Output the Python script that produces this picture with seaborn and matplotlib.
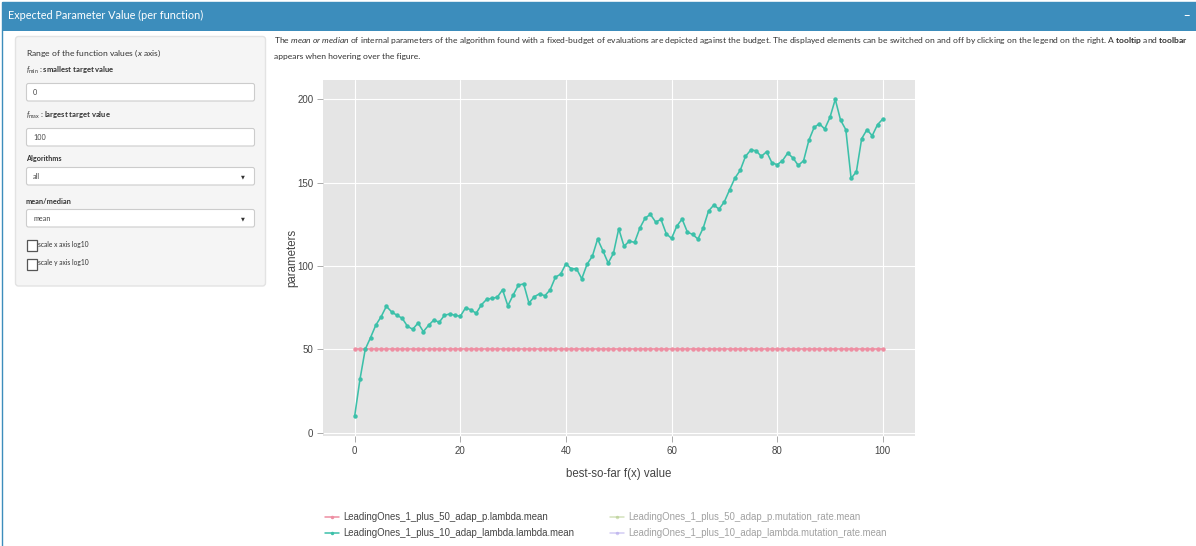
import matplotlib
matplotlib.use("Agg")
import matplotlib.pyplot as plt
import pandas as pd
import seaborn as sns
from matplotlib.lines import Line2D
from matplotlib.patches import FancyBboxPatch, Rectangle

# values (best-so-far f(x) vs mean parameter value)
fx_values = list(range(101))
lambda_p50 = [
    50, 50, 50, 50, 50, 50, 50, 50, 50, 50, 50, 50, 50, 50, 50, 50, 50, 50, 50, 50,
    50, 50, 50, 50, 50, 50, 50, 50, 50, 50, 50, 50, 50, 50, 50, 50, 50, 50, 50, 50,
    50, 50, 50, 50, 50, 50, 50, 50, 50, 50, 50, 50, 50, 50, 50, 50, 50, 50, 50, 50,
    50, 50, 50, 50, 50, 50, 50, 50, 50, 50, 50, 50, 50, 50, 50, 50, 50, 50, 50, 50,
    50, 50, 50, 50, 50, 50, 50, 50, 50, 50, 50, 50, 50, 50, 50, 50, 50, 50, 50, 50,
    50,
]
lambda_l10 = [
    10.0, 32.0, 50.0, 57.0, 64.5, 69.5, 75.8, 72.4, 70.4, 68.6,
    63.8, 62.0, 65.8, 60.6, 64.4, 67.6, 66.2, 70.4, 71.2, 70.4,
    69.8, 74.9, 73.7, 71.6, 76.7, 80.0, 80.6, 81.2, 85.7, 76.1,
    82.5, 88.5, 89.2, 77.7, 81.5, 83.3, 82.1, 85.6, 93.2, 95.1,
    101.3, 98.3, 98.3, 92.3, 101.0, 105.8, 116.1, 109.1, 101.7, 107.6,
    122.3, 111.8, 114.9, 114.1, 122.7, 128.7, 130.9, 126.3, 127.9, 119.3,
    116.5, 123.9, 128.1, 120.3, 118.9, 116.1, 122.8, 132.9, 136.5, 134.1,
    138.5, 145.7, 152.7, 157.3, 165.7, 169.5, 169.1, 165.7, 168.5, 161.9,
    160.7, 163.1, 167.7, 164.7, 160.3, 163.1, 175.3, 183.1, 185.3, 182.1,
    189.1, 199.9, 187.5, 181.7, 152.5, 156.5, 176.3, 181.7, 178.1, 184.7,
    188.1,
]

series_names = [
    "LeadingOnes_1_plus_50_adap_p.lambda.mean",
    "LeadingOnes_1_plus_10_adap_lambda.lambda.mean",
    "LeadingOnes_1_plus_50_adap_p.mutation_rate.mean",
    "LeadingOnes_1_plus_10_adap_lambda.mutation_rate.mean",
]
series_colors = ["#ee8ea2", "#3cc0a9", "#a8c47a", "#a89be9"]
x_ticks = [0, 20, 40, 60, 80, 100]
y_ticks = [0, 50, 100, 150, 200]

sns.set_theme(style="darkgrid", rc={"axes.facecolor": "#e5e5e5", "grid.color": "white"})
plt.rcParams["font.family"] = ["Lato", "DejaVu Sans"]
plt.rcParams["mathtext.fontset"] = "custom"
plt.rcParams["mathtext.rm"] = "Lato"
plt.rcParams["mathtext.it"] = "Lato:italic"
plt.rcParams["mathtext.bf"] = "Lato:bold"
PLOT_FONT = ["Liberation Sans", "DejaVu Sans"]
TXT = "#333333"

W, H = 1196, 546
fig = plt.figure(figsize=(W / 100, H / 100), dpi=100)
fig.patch.set_facecolor("white")

# page around the plot, drawn in pixel coordinates
page = fig.add_axes([0, 0, 1, 1], zorder=0)
page.set_xlim(0, W)
page.set_ylim(H, 0)
page.axis("off")

page.add_patch(Rectangle((1.5, 2), W, H, fill=False, ec="#3c8dbc", lw=1))
page.add_patch(Rectangle((1.5, 2), W, 29, color="#3c8dbc", lw=0))
page.text(8, 15.5, "Expected Parameter Value (per function)", color="white",
          fontsize=7.8, va="center")
page.text(1186, 15.5, "\u2212", color="white", fontsize=8, fontweight="bold",
          va="center", ha="center")

page.text(274, 46.5,
          r"The $\mathit{mean\ or\ median}$ of internal parameters of the algorithm found "
          r"with a fixed-budget of evaluations are depicted against the budget. The displayed "
          r"elements can be switched on and off by clicking on the legend on the right. "
          r"A $\mathbf{tooltip}$ and $\mathbf{toolbar}$",
          fontsize=6.1, color=TXT, va="bottom")
page.text(274, 60, "appears when hovering over the figure.", fontsize=6.1, color=TXT,
          va="bottom")

# sidebar with the inputs
page.add_patch(FancyBboxPatch((15.5, 36.5), 250, 249.5, boxstyle="round,pad=0,rounding_size=3",
                              fc="#f5f5f5", ec="#e3e3e3", lw=1))
page.text(26, 53, r"Range of the function values ($x$ axis)", fontsize=6.1, color=TXT,
          va="center")
page.text(26, 70, r"$f_{\mathrm{min}}$ : smallest target value", fontsize=5.5,
          fontweight="bold", color=TXT, va="center")
page.text(26, 115, r"$f_{\mathrm{max}}$ : largest target value", fontsize=5.5,
          fontweight="bold", color=TXT, va="center")
page.text(26, 159, "Algorithms", fontsize=5.2, fontweight="bold", color=TXT, va="center")
page.text(26, 201.5, "mean/median", fontsize=5.3, fontweight="bold", color=TXT, va="center")

for top, value, caret in [(83.5, "0", False), (128.5, "100", False),
                          (167.5, "all", True), (209.5, "mean", True)]:
    page.add_patch(FancyBboxPatch((26.5, top), 228, 17.5, boxstyle="round,pad=0,rounding_size=2",
                                  fc="white", ec="#cccccc", lw=0.8))
    page.text(33, top + 9, value, fontsize=5.2, color="#444444", va="center")
    if caret:
        page.text(243, top + 9, "\u25bc", fontsize=3.6, color=TXT, va="center",
                  ha="center", family="DejaVu Sans")

for top, label in [(240, "scale x axis log10"), (259, "scale y axis log10")]:
    page.add_patch(Rectangle((26.5, top), 10.5, 10.5, fc="white", ec="#555555", lw=0.9))
    page.text(37.5, top + 4, label, fontsize=4.8, color=TXT, va="center")

# the plot itself
df = pd.DataFrame({
    "fx": fx_values + fx_values,
    "value": lambda_p50 + lambda_l10,
    "series": [series_names[0]] * len(fx_values) + [series_names[1]] * len(fx_values),
})

ax = fig.add_axes([323 / W, 1 - 436 / H, 592 / W, 356 / H], zorder=1)
sns.lineplot(data=df, x="fx", y="value", hue="series", hue_order=series_names[:2],
             palette=series_colors[:2], marker="o", markersize=3.2, markeredgewidth=0,
             linewidth=1.15, errorbar=None, legend=False, ax=ax)

ax.set_xlim(-6, 106.1)
ax.set_ylim(-2, 211.5)
ax.set_xticks(x_ticks)
ax.set_yticks(y_ticks)
ax.grid(True, color="white", lw=0.8)
for s in ax.spines.values():
    s.set_visible(False)
ax.tick_params(axis="both", which="major", length=4, width=0.7, color="#aaaaaa",
               labelsize=7, labelcolor="#444444", pad=3,
               bottom=True, left=True)
for lab in ax.get_xticklabels() + ax.get_yticklabels():
    lab.set_family(PLOT_FONT)
ax.set_xlabel("best-so-far f(x) value", fontsize=8.3, color="#444444", family=PLOT_FONT,
              labelpad=9)
ax.set_ylabel("parameters", fontsize=8.3, color="#444444", family=PLOT_FONT, labelpad=-0.5)

# legend: first column visible traces, second column hidden ones (faded)
handles = [Line2D([], [], color=c, marker="o", markersize=2.5, lw=1.1, markeredgewidth=0)
           for c in series_colors]
legend_kw = dict(loc="upper left", frameon=False, ncol=1,
                 prop={"family": PLOT_FONT, "size": 6.95}, handlelength=1.5,
                 handletextpad=0.35, labelspacing=0.65, borderpad=0, borderaxespad=0)
leg1 = fig.legend(handles[:2], series_names[:2], bbox_to_anchor=(325 / W, 1 - 512 / H),
                  **legend_kw)
for t in leg1.get_texts():
    t.set_color("#444444")
leg2 = fig.legend(handles[2:], series_names[2:], bbox_to_anchor=(610 / W, 1 - 512 / H),
                  **legend_kw)
for t in leg2.get_texts():
    t.set_color("#444444")
    t.set_alpha(0.5)
for h in leg2.legend_handles:
    h.set_alpha(0.5)

fig.savefig("out.png", dpi=100)
plt.close(fig)
